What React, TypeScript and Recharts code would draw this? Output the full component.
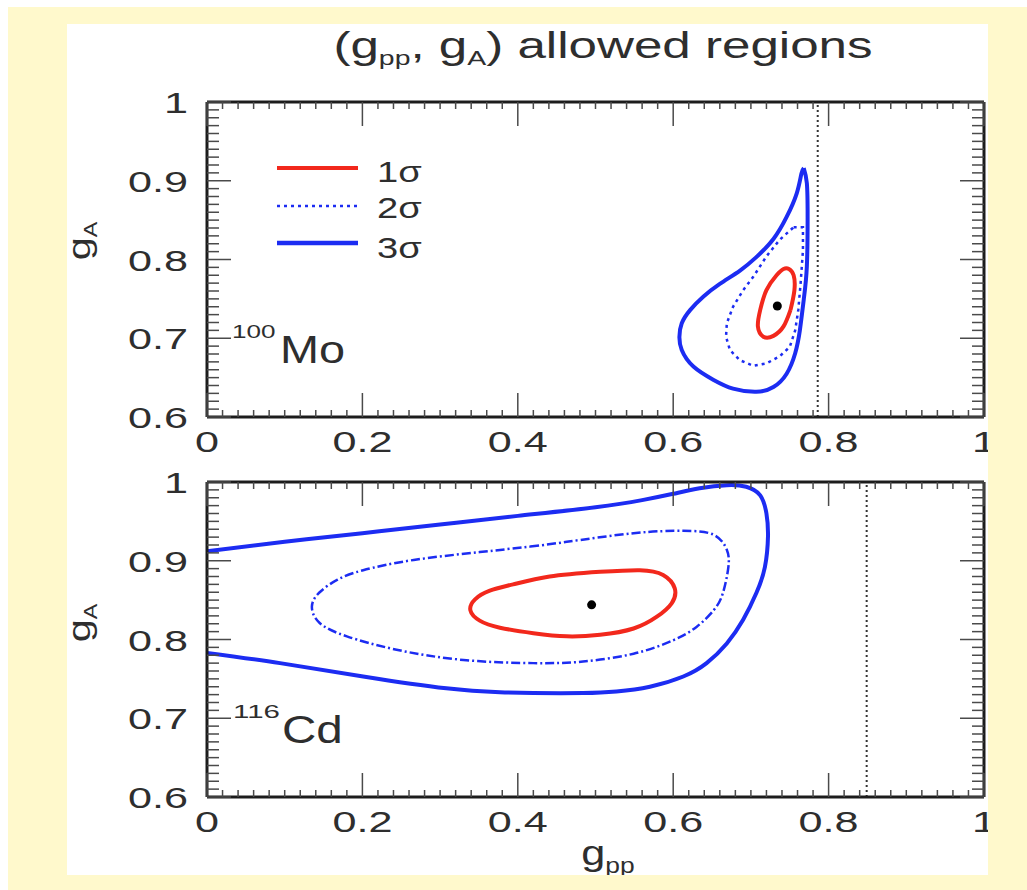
import { ComposedChart, Line, Scatter, XAxis, YAxis, ReferenceLine } from "recharts";

const FONT = "'Liberation Sans', Arial, Helvetica, sans-serif";
const INK = "#2e2e2e";
const TICK = "#4a4a4a";
const RED = "#f2281c";
const BLUE = "#1c2cf2";
const PAPER = "#fff9cc";
const FRAME = { stroke: "#1c1c1c", strokeWidth: 3 };

// axis ticks (g_pp on x, g_A on y)
const xMajor = [0, 0.2, 0.4, 0.6, 0.8, 1];
const xTicks = Array.from({ length: 51 }, (_, i) => +(i * 0.02).toFixed(2));
const yMajor = [0.6, 0.7, 0.8, 0.9, 1];
const yTicks = Array.from({ length: 41 }, (_, i) => +(0.6 + i * 0.01).toFixed(2));

// 100Mo contours [g_pp, g_A]
const mo1Sigma = [
  [0.751, 0.736], [0.742, 0.715], [0.729, 0.703], [0.716, 0.702], [0.709, 0.715],
  [0.712, 0.736], [0.72, 0.761], [0.733, 0.78], [0.742, 0.788], [0.749, 0.788],
  [0.755, 0.78], [0.756, 0.761], [0.751, 0.736],
];
const mo2Sigma = [
  [0.755, 0.841], [0.767, 0.841], [0.767, 0.812], [0.764, 0.77], [0.761, 0.736],
  [0.757, 0.71], [0.75, 0.689], [0.737, 0.677], [0.72, 0.668], [0.703, 0.665],
  [0.686, 0.672], [0.673, 0.685], [0.668, 0.702], [0.669, 0.719], [0.677, 0.74],
  [0.69, 0.761], [0.703, 0.778], [0.72, 0.804], [0.737, 0.825], [0.755, 0.841],
];
const mo3Sigma = [
  [0.768, 0.916], [0.772, 0.897], [0.773, 0.854], [0.772, 0.791], [0.768, 0.749],
  [0.763, 0.71], [0.757, 0.681], [0.746, 0.655], [0.729, 0.638], [0.707, 0.632],
  [0.677, 0.636], [0.652, 0.647], [0.626, 0.664], [0.611, 0.685], [0.608, 0.702],
  [0.611, 0.719], [0.622, 0.736], [0.639, 0.753], [0.66, 0.769], [0.686, 0.786],
  [0.707, 0.803], [0.729, 0.826], [0.746, 0.854], [0.759, 0.884], [0.765, 0.909],
  [0.768, 0.916],
];
const moBest = [[0.734, 0.741]];
const moLimit = 0.786;

// 116Cd contours
const cd1Sigma = [
  [0.506, 0.886], [0.557, 0.888], [0.587, 0.882], [0.602, 0.865], [0.598, 0.846],
  [0.579, 0.829], [0.549, 0.814], [0.506, 0.806], [0.463, 0.804], [0.42, 0.808],
  [0.377, 0.815], [0.351, 0.824], [0.339, 0.837], [0.345, 0.851], [0.364, 0.862],
  [0.394, 0.87], [0.441, 0.88], [0.506, 0.886],
];
const cd2Sigma = [
  [0.416, 0.918], [0.463, 0.924], [0.549, 0.935], [0.613, 0.938], [0.652, 0.933],
  [0.669, 0.914], [0.671, 0.892], [0.664, 0.859], [0.652, 0.837], [0.63, 0.816],
  [0.6, 0.799], [0.549, 0.782], [0.484, 0.772], [0.42, 0.77], [0.33, 0.774],
  [0.244, 0.787], [0.18, 0.804], [0.145, 0.821], [0.135, 0.842], [0.145, 0.86],
  [0.168, 0.876], [0.201, 0.888], [0.266, 0.901], [0.351, 0.911], [0.416, 0.918],
];
const cd3Sigma = [
  [0, 0.912], [0.1, 0.924], [0.2, 0.935], [0.3, 0.946], [0.4, 0.957], [0.5, 0.968],
  [0.56, 0.977], [0.6, 0.985], [0.634, 0.992], [0.669, 0.996], [0.694, 0.994],
  [0.712, 0.983], [0.72, 0.96], [0.722, 0.931], [0.718, 0.892], [0.707, 0.859],
  [0.69, 0.825], [0.669, 0.795], [0.643, 0.77], [0.613, 0.753], [0.57, 0.74],
  [0.527, 0.734], [0.484, 0.732], [0.42, 0.732], [0.377, 0.733], [0.308, 0.738],
  [0.201, 0.753], [0.094, 0.77], [0, 0.783],
];
const cdBest = [[0.495, 0.844]];
const cdLimit = 0.849;

const legendItems = [
  { label: "1σ", color: RED, width: 4, dash: undefined },
  { label: "2σ", color: BLUE, width: 2.5, dash: "3 4" },
  { label: "3σ", color: BLUE, width: 4.5, dash: undefined },
];

const pts = (arr: number[][]) => arr.map(([x, y]) => ({ x, y }));
const onStep = (v: number, base: number, step: number) => {
  const k = (v - base) / step;
  return Math.abs(k - Math.round(k)) < 1e-6;
};
const fmt = (v: number) => (v === 0 || v === 1 ? String(v) : v.toFixed(1));

function Txt({ x, y, size, sx = 1, anchor = "start", children }: any) {
  return (
    <text
      transform={`translate(${x},${y}) scale(${sx},1)`}
      fontSize={size}
      fontFamily={FONT}
      textAnchor={anchor}
      fill={INK}
    >
      {children}
    </text>
  );
}

function BottomTick(p: any) {
  const major = onStep(p.payload.value, 0, 0.2);
  return (
    <g>
      <line x1={p.x} y1={p.y} x2={p.x} y2={p.y - (major ? 24 : 7)} stroke={TICK} strokeWidth={1.5} />
      {major && (
        <Txt x={p.x} y={p.y + 35} size={30} sx={1.44} anchor="middle">
          {fmt(p.payload.value)}
        </Txt>
      )}
    </g>
  );
}

function TopTick(p: any) {
  const major = onStep(p.payload.value, 0, 0.2);
  return <line x1={p.x} y1={p.y} x2={p.x} y2={p.y + (major ? 24 : 7)} stroke={TICK} strokeWidth={1.5} />;
}

function LeftTick(p: any) {
  const major = onStep(p.payload.value, 0.6, 0.1);
  return (
    <g>
      <line x1={p.x} y1={p.y} x2={p.x + (major ? 24 : 12)} y2={p.y} stroke={TICK} strokeWidth={1.5} />
      {major && (
        <Txt x={p.x - 19} y={p.y + 11} size={30} sx={1.44} anchor="end">
          {fmt(p.payload.value)}
        </Txt>
      )}
    </g>
  );
}

function RightTick(p: any) {
  const major = onStep(p.payload.value, 0.6, 0.1);
  return <line x1={p.x} y1={p.y} x2={p.x - (major ? 24 : 12)} y2={p.y} stroke={TICK} strokeWidth={1.5} />;
}

const BestDot = (p: any) => <circle cx={p.cx} cy={p.cy} r={4.5} fill="#000" />;

function Panel({ s1, s2, s3, best, limit, dash2, curve2, height, margin }: any) {
  return (
    <ComposedChart width={921} height={height} margin={margin}>
      <XAxis
        type="number" dataKey="x" domain={[0, 1]} ticks={xTicks} interval={0}
        height={1} tickSize={0} tickMargin={0} tickLine={false} axisLine={FRAME}
        tick={BottomTick} allowDataOverflow
      />
      <XAxis
        xAxisId="top" orientation="top" type="number" dataKey="x" domain={[0, 1]}
        ticks={xTicks} interval={0} height={1} tickSize={0} tickMargin={0}
        tickLine={false} axisLine={FRAME} tick={TopTick} allowDataOverflow
      />
      <YAxis
        type="number" dataKey="y" domain={[0.6, 1]} ticks={yTicks} interval={0}
        width={1} tickSize={0} tickMargin={0} tickLine={false} axisLine={FRAME}
        tick={LeftTick} allowDataOverflow
      />
      <YAxis
        yAxisId="right" orientation="right" type="number" dataKey="y" domain={[0.6, 1]}
        ticks={yTicks} interval={0} width={1} tickSize={0} tickMargin={0}
        tickLine={false} axisLine={FRAME} tick={RightTick} allowDataOverflow
      />
      <ReferenceLine x={limit} stroke="#333" strokeWidth={2} strokeDasharray="2 3" />
      <Line data={pts(s3)} dataKey="y" type="natural" stroke={BLUE} strokeWidth={4} dot={false} activeDot={false} isAnimationActive={false} legendType="none" />
      <Line data={pts(s2)} dataKey="y" type={curve2} stroke={BLUE} strokeWidth={2.5} strokeDasharray={dash2} dot={false} activeDot={false} isAnimationActive={false} legendType="none" />
      <Line data={pts(s1)} dataKey="y" type="natural" stroke={RED} strokeWidth={4} dot={false} activeDot={false} isAnimationActive={false} legendType="none" />
      <Scatter data={pts(best)} shape={BestDot} isAnimationActive={false} legendType="none" />
    </ComposedChart>
  );
}

export default function App() {
  return (
    <div style={{ position: "relative", width: 1027, height: 890, background: "#fff", overflow: "hidden" }}>
      <style>{"body{margin:0;overflow:hidden}"}</style>
      <div style={{ position: "absolute", left: 8, top: 7, width: 1019, height: 883, background: PAPER }} />
      <div style={{ position: "absolute", left: 67, top: 24, width: 921, height: 851, background: "#fff", overflow: "hidden" }}>
        <div style={{ position: "absolute", left: 0, top: 0 }}>
          <Panel
            s1={mo1Sigma} s2={mo2Sigma} s3={mo3Sigma} best={moBest} limit={moLimit}
            dash2="3 4" curve2="linear" height={436}
            margin={{ top: 77, right: 3, bottom: 42, left: 139 }}
          />
        </div>
        <div style={{ position: "absolute", left: 0, top: 436 }}>
          <Panel
            s1={cd1Sigma} s2={cd2Sigma} s3={cd3Sigma} best={cdBest} limit={cdLimit}
            dash2="9 3 2 3" curve2="natural" height={415}
            margin={{ top: 21, right: 3, bottom: 77, left: 139 }}
          />
        </div>
        <svg width={921} height={851} style={{ position: "absolute", left: 0, top: 0, pointerEvents: "none" }}>
          <Txt x={536} y={34} size={36} sx={1.42} anchor="middle">
            (g<tspan fontSize={20} dy={7}>pp</tspan>
            <tspan dy={-7}>, g</tspan>
            <tspan fontSize={20} dy={7}>A</tspan>
            <tspan dy={-7}>) allowed regions</tspan>
          </Txt>

          {legendItems.map((it, i) => (
            <g key={it.label}>
              <line
                x1={210} x2={291} y1={[144, 182, 219][i]} y2={[144, 182, 219][i]}
                stroke={it.color} strokeWidth={it.width} strokeDasharray={it.dash}
              />
              <Txt x={310} y={[158, 194, 234][i]} size={30} sx={1.27}>{it.label}</Txt>
            </g>
          ))}

          <Txt x={165} y={314} size={18} sx={1.45}>100</Txt>
          <Txt x={213} y={339} size={39} sx={1.2}>Mo</Txt>
          <Txt x={166} y={694} size={19} sx={1.55}>116</Txt>
          <Txt x={215} y={719} size={39} sx={1.22}>Cd</Txt>

          {[217, 599].map((cy) => (
            <text
              key={cy}
              transform={`translate(23,${cy}) rotate(-90) scale(1.3,1)`}
              fontSize={32} fontFamily={FONT} textAnchor="middle" fill={INK}
            >
              g<tspan fontSize={18} dy={7}>A</tspan>
            </text>
          ))}

          <Txt x={541} y={841} size={36} sx={1.2} anchor="middle">
            g<tspan fontSize={22} dy={8}>pp</tspan>
          </Txt>
        </svg>
      </div>
    </div>
  );
}
